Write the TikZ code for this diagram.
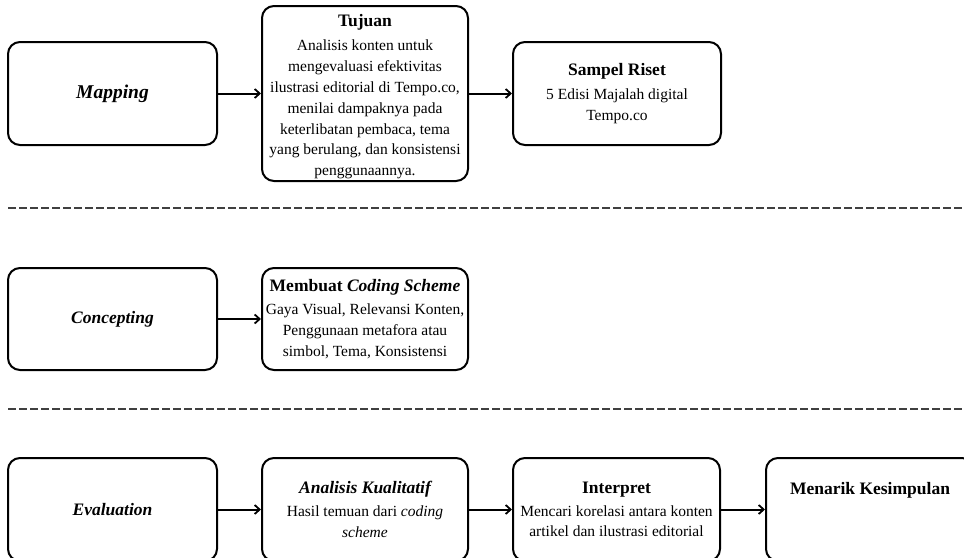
\documentclass[tikz,border=0pt]{standalone}
\usepackage{fontspec}
\setmainfont{Liberation Serif}
\usetikzlibrary{arrows.meta}
\tikzset{
  box/.style={draw=black, line width=2pt, rounded corners=12pt, inner sep=0pt,
    align=center, font=\fontsize{15.5}{20.8}\selectfont, text=black},
  conn/.style={line width=2pt, -{Straight Barb[length=5pt,width=9pt,line width=1.8pt]}},
  sep/.style={line width=1.3pt, draw=black!75, dash pattern=on 8pt off 3pt}
}
\newcommand{\boxtitle}[1]{{\fontsize{17.5}{21}\selectfont\bfseries #1}}
\begin{document}
\begin{tikzpicture}[x=1pt,y=-1pt]
\clip (0,0) rectangle (964,557);
\useasboundingbox (0,0) rectangle (964,557);
% row 1
\node[box, minimum width=209pt, minimum height=103pt] (map) at (112.5,93.5)
  {{\fontsize{19.5}{21}\selectfont\bfseries\itshape Mapping}};
\node[box, minimum width=206pt, minimum height=175pt] (tuj) at (365,93.5)
  {\rule{0pt}{18pt}\boxtitle{Tujuan}\\[4pt]
   Analisis konten untuk\\
   mengevaluasi efektivitas\\
   ilustrasi editorial di Tempo.co,\\
   menilai dampaknya pada\\
   keterlibatan pembaca, tema\\
   yang berulang, dan konsistensi\\
   penggunaannya.};
\node[box, minimum width=208pt, minimum height=103pt] (sam) at (617,93.5)
  {\boxtitle{Sampel Riset}\\[3pt]
   5 Edisi Majalah digital\\
   Tempo.co};
\draw[conn] (map) -- (tuj);
\draw[conn] (tuj) -- (sam);
% separator 1
\coordinate (s1a) at (8,208);
\coordinate (s1b) at (964,208);
\draw[sep] (s1a) -- (s1b);
% row 2
\node[box, minimum width=209pt, minimum height=102pt] (con) at (112.5,319)
  {\boxtitle{\itshape Concepting}};
\node[box, minimum width=206pt, minimum height=102pt] (cod) at (365,319)
  {\boxtitle{Membuat \textit{Coding Scheme}}\\[2pt]
   Gaya Visual, Relevansi Konten,\\
   Penggunaan metafora atau\\
   simbol, Tema, Konsistensi};
\draw[conn] (con) -- (cod);
% separator 2
\coordinate (s2a) at (8,409);
\coordinate (s2b) at (964,409);
\draw[sep] (s2a) -- (s2b);
% row 3
\node[box, minimum width=209pt, minimum height=103pt] (eva) at (112.5,509.5)
  {\boxtitle{\itshape Evaluation}};
\node[box, minimum width=206pt, minimum height=103pt] (ana) at (365,509.5)
  {\boxtitle{\itshape Analisis Kualitatif}\\[2pt]
   Hasil temuan dari \textit{coding}\\
   \textit{scheme}};
\node[box, minimum width=207pt, minimum height=103pt] (int) at (616.5,509.5)
  {\boxtitle{Interpret}\\[2pt]
   Mencari korelasi antara konten\\
   artikel dan ilustrasi editorial};
\node[box, minimum width=208pt, minimum height=103pt] (men) at (870,509.5)
  {\boxtitle{Menarik Kesimpulan}\\ \mbox{}\\ \mbox{}};
\draw[conn] (eva) -- (ana);
\draw[conn] (ana) -- (int);
\draw[conn] (int) -- (men);
\end{tikzpicture}
\end{document}
